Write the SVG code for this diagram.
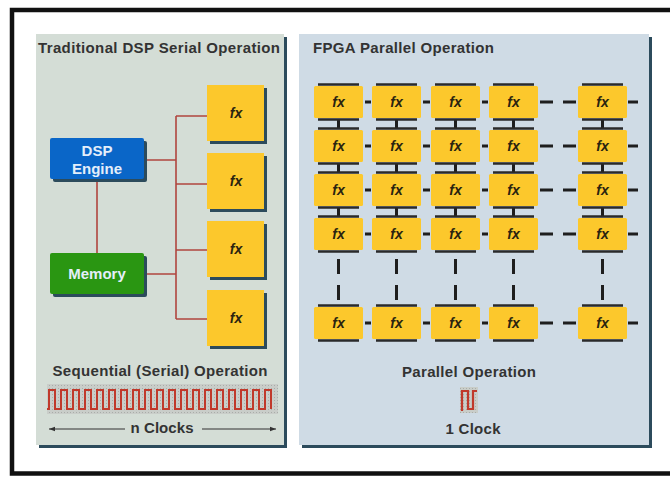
<svg xmlns="http://www.w3.org/2000/svg" width="670" height="477" viewBox="0 0 670 477">
<style>
.title{font-family:"Liberation Sans",Arial,sans-serif;font-weight:bold;font-size:15px;fill:#333}
.lbl{font-family:"Liberation Sans",Arial,sans-serif;font-weight:bold;font-size:15px;fill:#333;text-anchor:middle}
.wlbl{font-family:"Liberation Sans",Arial,sans-serif;font-weight:bold;font-size:15px;fill:#e4eefa;text-anchor:middle}
.fx{font-family:"Liberation Sans",Arial,sans-serif;font-weight:bold;font-style:italic;font-size:14px;fill:#2a2410;text-anchor:middle}
.shadow{fill:#2c4b5c}
.ybox{fill:#fcc82c}
.pbox{fill:#fcc82c}
.bar{stroke:#2a2a2a;stroke-width:2.5;fill:none}
.wire{stroke:#b0453f;stroke-width:1.6;fill:none}
.link{stroke:#1e1e1e;stroke-width:3;fill:none}
.arrow{stroke:#333;stroke-width:1.2;fill:none}
</style>
<defs>
<marker id="ah" viewBox="0 0 6 6" refX="6" refY="3" markerWidth="6" markerHeight="6" orient="auto-start-reverse" markerUnits="userSpaceOnUse">
<path d="M0,0.8 L6,3 L0,5.2 Z" fill="#333"/>
</marker>
<pattern id="dots" width="3" height="3" patternUnits="userSpaceOnUse">
<rect width="3" height="3" fill="#c9cdc9"/>
<rect x="1" y="1" width="1" height="1" fill="#a9ada9"/>
</pattern>
</defs>
<rect x="0" y="0" width="670" height="477" fill="#fff"/>
<!-- outer frame (open on right) -->
<path d="M670,10 H12 V473.5 H670" fill="none" stroke="#111" stroke-width="4.5"/>

<!-- left panel -->
<g id="panel-left">
<rect class="shadow" x="39" y="37" width="248" height="411"/>
<rect x="36" y="34" width="248" height="411" fill="#d4ddd6"/>
<text class="title" x="38" y="53" textLength="242">Traditional DSP Serial Operation</text>
</g>
<!-- right panel -->
<g id="panel-right">
<rect class="shadow" x="302" y="37" width="350" height="411"/>
<rect x="299" y="34" width="350" height="411" fill="#cfdbe5"/>
<text class="title" x="313" y="53" textLength="181">FPGA Parallel Operation</text>
</g>

<!-- connectors -->
<g id="connectors">
<path class="wire" d="M144,160 H176 M97,180 V253 M144,274 H176 M176,116 V319 M176,116 H207 M176,184 H207 M176,250 H207 M176,319 H207"/>
<path class="link" d="M338.5,119.5 V128.5 M396.5,119.5 V128.5 M455.5,119.5 V128.5 M513.5,119.5 V128.5 M602.5,119.5 V128.5
M338.5,163.5 V172.5 M396.5,163.5 V172.5 M455.5,163.5 V172.5 M513.5,163.5 V172.5 M602.5,163.5 V172.5
M338.5,207.5 V216.5 M396.5,207.5 V216.5 M455.5,207.5 V216.5 M513.5,207.5 V216.5 M602.5,207.5 V216.5"/>
<path class="link" d="M338.5,259 V274 M338.5,285 V300 M396.5,259 V274 M396.5,285 V300 M455.5,259 V274 M455.5,285 V300 M513.5,259 V274 M513.5,285 V300 M602.5,259 V274 M602.5,285 V300"/>
<path class="link" d="M365,102 H371 M423,102 H430 M482,102 H488 M540,102 H553 M563,102 H576 M628,102 H638
M365,146 H371 M423,146 H430 M482,146 H488 M540,146 H553 M563,146 H576 M628,146 H638
M365,190 H371 M423,190 H430 M482,190 H488 M540,190 H553 M563,190 H576 M628,190 H638
M365,234 H371 M423,234 H430 M482,234 H488 M540,234 H553 M563,234 H576 M628,234 H638
M365,323 H371 M423,323 H430 M482,323 H488 M540,323 H553 M563,323 H576 M628,323 H638"/>
</g>

<!-- left nodes -->
<g id="dsp-engine">
<rect class="shadow" x="53" y="141" width="94" height="41" rx="2"/>
<rect x="50" y="138" width="94" height="41" rx="2" fill="#0a66c8"/>
<text class="wlbl" x="97" y="156">DSP</text>
<text class="wlbl" x="97" y="174">Engine</text>
</g>
<g id="memory">
<rect class="shadow" x="53" y="256" width="94" height="41" rx="2"/>
<rect x="50" y="253" width="94" height="41" rx="2" fill="#2a9612"/>
<text class="wlbl" x="97" y="279">Memory</text>
</g>
<g id="fx-s1">
<rect class="shadow" x="210" y="88" width="57" height="56"/>
<rect class="ybox" x="207" y="85" width="57" height="56"/>
<text class="fx" x="236" y="118">fx</text>
</g>
<g id="fx-s2">
<rect class="shadow" x="210" y="156" width="57" height="56"/>
<rect class="ybox" x="207" y="153" width="57" height="56"/>
<text class="fx" x="236" y="186">fx</text>
</g>
<g id="fx-s3">
<rect class="shadow" x="210" y="224" width="57" height="56"/>
<rect class="ybox" x="207" y="221" width="57" height="56"/>
<text class="fx" x="236" y="254">fx</text>
</g>
<g id="fx-s4">
<rect class="shadow" x="210" y="293" width="57" height="56"/>
<rect class="ybox" x="207" y="290" width="57" height="56"/>
<text class="fx" x="236" y="323">fx</text>
</g>

<!-- serial clock -->
<g id="serial-clock">
<text class="lbl" x="160" y="376" textLength="215">Sequential (Serial) Operation</text>
<rect x="47" y="384" width="231" height="30" fill="url(#dots)"/>
<path d="M47,409 h2 v-19 h6 v19 h6 v-19 h6 v19 h6 v-19 h6 v19 h6 v-19 h6 v19 h6 v-19 h6 v19 h6 v-19 h6 v19 h6 v-19 h6 v19 h6 v-19 h6 v19 h6 v-19 h6 v19 h6 v-19 h6 v19 h6 v-19 h6 v19 h6 v-19 h6 v19 h6 v-19 h6 v19 h6 v-19 h6 v19 h6 v-19 h6 v19 h6 v-19 h6 v19 h6 v-19 h6 v19 h6 v-19 h6 v19 h6 v-19 h6 v19" fill="none" stroke="#c0392b" stroke-width="2"/>
<text class="lbl" x="162" y="433" textLength="63">n Clocks</text>
<line class="arrow" x1="125" y1="429" x2="49" y2="429" marker-end="url(#ah)"/>
<line class="arrow" x1="202" y1="429" x2="276" y2="429" marker-end="url(#ah)"/>
</g>

<!-- parallel grid nodes -->
<g id="p-r1c1"><rect class="pbox" x="314" y="86" width="49" height="32" rx="1.5"/><path class="bar" d="M318,84.5 H359 M318,119.5 H359"/><text class="fx" x="338.5" y="107">fx</text></g>
<g id="p-r1c2"><rect class="pbox" x="372" y="86" width="49" height="32" rx="1.5"/><path class="bar" d="M376,84.5 H417 M376,119.5 H417"/><text class="fx" x="396.5" y="107">fx</text></g>
<g id="p-r1c3"><rect class="pbox" x="431" y="86" width="49" height="32" rx="1.5"/><path class="bar" d="M435,84.5 H476 M435,119.5 H476"/><text class="fx" x="455.5" y="107">fx</text></g>
<g id="p-r1c4"><rect class="pbox" x="489" y="86" width="49" height="32" rx="1.5"/><path class="bar" d="M493,84.5 H534 M493,119.5 H534"/><text class="fx" x="513.5" y="107">fx</text></g>
<g id="p-r1c5"><rect class="pbox" x="578" y="86" width="49" height="32" rx="1.5"/><path class="bar" d="M582,84.5 H623 M582,119.5 H623"/><text class="fx" x="602.5" y="107">fx</text></g>

<g id="p-r2c1"><rect class="pbox" x="314" y="130" width="49" height="32" rx="1.5"/><path class="bar" d="M318,128.5 H359 M318,163.5 H359"/><text class="fx" x="338.5" y="151">fx</text></g>
<g id="p-r2c2"><rect class="pbox" x="372" y="130" width="49" height="32" rx="1.5"/><path class="bar" d="M376,128.5 H417 M376,163.5 H417"/><text class="fx" x="396.5" y="151">fx</text></g>
<g id="p-r2c3"><rect class="pbox" x="431" y="130" width="49" height="32" rx="1.5"/><path class="bar" d="M435,128.5 H476 M435,163.5 H476"/><text class="fx" x="455.5" y="151">fx</text></g>
<g id="p-r2c4"><rect class="pbox" x="489" y="130" width="49" height="32" rx="1.5"/><path class="bar" d="M493,128.5 H534 M493,163.5 H534"/><text class="fx" x="513.5" y="151">fx</text></g>
<g id="p-r2c5"><rect class="pbox" x="578" y="130" width="49" height="32" rx="1.5"/><path class="bar" d="M582,128.5 H623 M582,163.5 H623"/><text class="fx" x="602.5" y="151">fx</text></g>

<g id="p-r3c1"><rect class="pbox" x="314" y="174" width="49" height="32" rx="1.5"/><path class="bar" d="M318,172.5 H359 M318,207.5 H359"/><text class="fx" x="338.5" y="195">fx</text></g>
<g id="p-r3c2"><rect class="pbox" x="372" y="174" width="49" height="32" rx="1.5"/><path class="bar" d="M376,172.5 H417 M376,207.5 H417"/><text class="fx" x="396.5" y="195">fx</text></g>
<g id="p-r3c3"><rect class="pbox" x="431" y="174" width="49" height="32" rx="1.5"/><path class="bar" d="M435,172.5 H476 M435,207.5 H476"/><text class="fx" x="455.5" y="195">fx</text></g>
<g id="p-r3c4"><rect class="pbox" x="489" y="174" width="49" height="32" rx="1.5"/><path class="bar" d="M493,172.5 H534 M493,207.5 H534"/><text class="fx" x="513.5" y="195">fx</text></g>
<g id="p-r3c5"><rect class="pbox" x="578" y="174" width="49" height="32" rx="1.5"/><path class="bar" d="M582,172.5 H623 M582,207.5 H623"/><text class="fx" x="602.5" y="195">fx</text></g>

<g id="p-r4c1"><rect class="pbox" x="314" y="218" width="49" height="32" rx="1.5"/><path class="bar" d="M318,216.5 H359 M318,251.5 H359"/><text class="fx" x="338.5" y="239">fx</text></g>
<g id="p-r4c2"><rect class="pbox" x="372" y="218" width="49" height="32" rx="1.5"/><path class="bar" d="M376,216.5 H417 M376,251.5 H417"/><text class="fx" x="396.5" y="239">fx</text></g>
<g id="p-r4c3"><rect class="pbox" x="431" y="218" width="49" height="32" rx="1.5"/><path class="bar" d="M435,216.5 H476 M435,251.5 H476"/><text class="fx" x="455.5" y="239">fx</text></g>
<g id="p-r4c4"><rect class="pbox" x="489" y="218" width="49" height="32" rx="1.5"/><path class="bar" d="M493,216.5 H534 M493,251.5 H534"/><text class="fx" x="513.5" y="239">fx</text></g>
<g id="p-r4c5"><rect class="pbox" x="578" y="218" width="49" height="32" rx="1.5"/><path class="bar" d="M582,216.5 H623 M582,251.5 H623"/><text class="fx" x="602.5" y="239">fx</text></g>

<g id="p-r5c1"><rect class="pbox" x="314" y="307" width="49" height="32" rx="1.5"/><path class="bar" d="M318,305.5 H359 M318,340.5 H359"/><text class="fx" x="338.5" y="328">fx</text></g>
<g id="p-r5c2"><rect class="pbox" x="372" y="307" width="49" height="32" rx="1.5"/><path class="bar" d="M376,305.5 H417 M376,340.5 H417"/><text class="fx" x="396.5" y="328">fx</text></g>
<g id="p-r5c3"><rect class="pbox" x="431" y="307" width="49" height="32" rx="1.5"/><path class="bar" d="M435,305.5 H476 M435,340.5 H476"/><text class="fx" x="455.5" y="328">fx</text></g>
<g id="p-r5c4"><rect class="pbox" x="489" y="307" width="49" height="32" rx="1.5"/><path class="bar" d="M493,305.5 H534 M493,340.5 H534"/><text class="fx" x="513.5" y="328">fx</text></g>
<g id="p-r5c5"><rect class="pbox" x="578" y="307" width="49" height="32" rx="1.5"/><path class="bar" d="M582,305.5 H623 M582,340.5 H623"/><text class="fx" x="602.5" y="328">fx</text></g>

<!-- parallel clock -->
<g id="parallel-clock">
<text class="lbl" x="469" y="377" textLength="134">Parallel Operation</text>
<rect x="460" y="387" width="18" height="26" fill="url(#dots)"/>
<path d="M462,411 V391 H468 V409 H473 V391 H477" fill="none" stroke="#c0392b" stroke-width="2.2"/>
<text class="lbl" x="473" y="434" textLength="55">1 Clock</text>
</g>
</svg>
